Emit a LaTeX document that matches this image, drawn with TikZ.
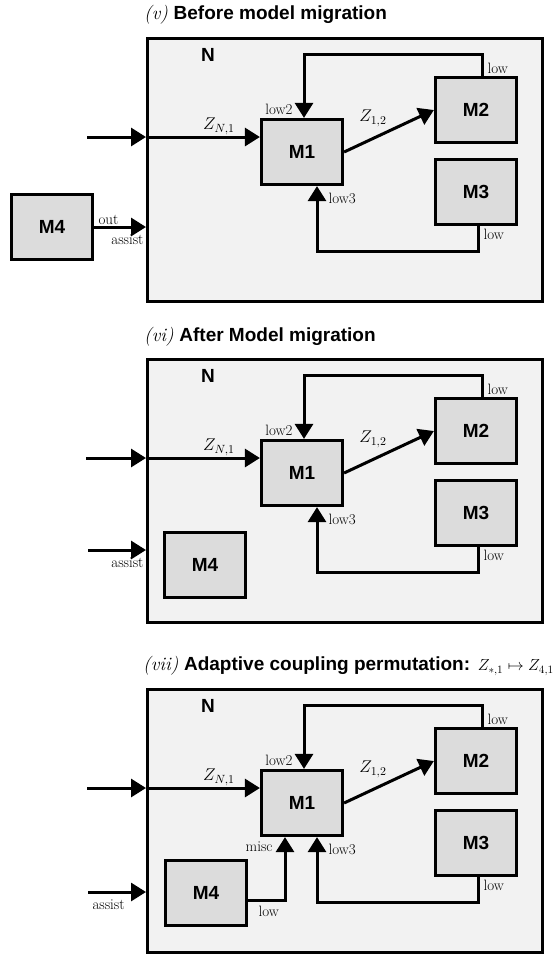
\RequirePackage{fix-cm}
\documentclass[tikz,border=0pt]{standalone}
\usepackage{fontspec}
\newfontfamily\headfont{Liberation Sans}
\usetikzlibrary{arrows.meta}
\definecolor{netbg}{HTML}{F2F2F2}
\definecolor{modfill}{HTML}{DCDCDC}

\begin{document}
\begin{tikzpicture}[x=1pt,y=-1pt,
    net/.style={draw,line width=3.2pt,fill=netbg,anchor=north west,minimum width=395pt,minimum height=263pt,inner sep=0pt},
    model/.style={draw,line width=3.2pt,fill=modfill,minimum width=81pt,minimum height=65pt,inner sep=0pt,font={\fontsize{19}{19}\headfont\bfseries}},
    netname/.style={inner sep=0pt,font={\fontsize{19}{19}\headfont\bfseries}},
    flow/.style={line width=3pt,-{Triangle[length=15pt,width=18pt]}},
    lbl/.style={inner sep=1pt,font={\fontsize{15}{15}\selectfont}},
    zlbl/.style={inner sep=1pt,font={\fontsize{17}{17}\selectfont}},
    title/.style={anchor=west,inner sep=0pt,font={\fontsize{19}{19}\selectfont}}]
\useasboundingbox (0,0) rectangle (555,954);

% (v) before the migration
\begin{scope}[shift={(0,37)}]
    \node[title] (tpre) at (144,-22) {\textit{(v)} {\headfont\bfseries Before model migration}};
    \node[net] (boxpre) at (146,0) {};
    \node[netname] (npre) at (208,18) {N};
    \node[model] (m1pre) at (302,115) {M1};
    \node[model] (m2pre) at (476,73) {M2};
    \node[model] (m3pre) at (476,155) {M3};
    \node[model] (m4pre) at (52,190) {M4};
    \coordinate (inpre) at (87,100);
    \coordinate (t1pre) at (482,17);
    \coordinate (t2pre) at (304,17);
    \coordinate (b1pre) at (478,214);
    \coordinate (b2pre) at (317,214);
    \draw[flow] (inpre) -- (inpre -| boxpre.west);
    \draw[flow] (inpre -| boxpre.west) -- (inpre -| m1pre.west) node[zlbl,pos=.64,above] {$Z_{N,1}$};
    \draw[flow] (m1pre.east) -- (m2pre.west) node[zlbl,midway,anchor=south east,yshift=2pt] {$Z_{1,2}$};
    \draw[flow] (t1pre |- m2pre.north) node[lbl,anchor=south west,xshift=3pt] {low} -- (t1pre) -- (t2pre) -- (t2pre |- m1pre.north) node[lbl,anchor=south east,xshift=-9pt,yshift=1pt] {low2};
    \draw[flow] (b1pre |- m3pre.south) node[lbl,anchor=north west,xshift=3pt] {low} -- (b1pre) -- (b2pre) -- (b2pre |- m1pre.south) node[lbl,anchor=west,xshift=9pt,yshift=-12pt] {low3};
    \draw[flow] (m4pre.east) node[lbl,anchor=south west,xshift=2pt] {out} -- (m4pre.east -| boxpre.west) node[lbl,anchor=north east,yshift=-5pt] {assist};
\end{scope}

% (vi) after the migration
\begin{scope}[shift={(0,358)}]
    \node[title] (tpost) at (144,-21) {\textit{(vi)} {\headfont\bfseries After Model migration}};
    \node[net] (boxpost) at (146,0) {};
    \node[netname] (npost) at (208,18) {N};
    \node[model] (m1post) at (302,115) {M1};
    \node[model] (m2post) at (476,73) {M2};
    \node[model] (m3post) at (476,155) {M3};
    \node[model] (m4post) at (205,207) {M4};
    \coordinate (inpost) at (86,100);
    \coordinate (aspost) at (88,192);
    \coordinate (t1post) at (482,17);
    \coordinate (t2post) at (304,17);
    \coordinate (b1post) at (478,214);
    \coordinate (b2post) at (317,214);
    \draw[flow] (inpost) -- (inpost -| boxpost.west);
    \draw[flow] (inpost -| boxpost.west) -- (inpost -| m1post.west) node[zlbl,pos=.64,above] {$Z_{N,1}$};
    \draw[flow] (m1post.east) -- (m2post.west) node[zlbl,midway,anchor=south east,yshift=2pt] {$Z_{1,2}$};
    \draw[flow] (t1post |- m2post.north) node[lbl,anchor=south west,xshift=3pt] {low} -- (t1post) -- (t2post) -- (t2post |- m1post.north) node[lbl,anchor=south east,xshift=-9pt,yshift=1pt] {low2};
    \draw[flow] (b1post |- m3post.south) node[lbl,anchor=north west,xshift=3pt] {low} -- (b1post) -- (b2post) -- (b2post |- m1post.south) node[lbl,anchor=west,xshift=9pt,yshift=-12pt] {low3};
    \draw[flow] (aspost) -- (aspost -| boxpost.west) node[lbl,anchor=north east,yshift=-5pt] {assist};
\end{scope}

% (vii) M4 now feeds M1
\begin{scope}[shift={(0,688)}]
    \node[title] (tperm) at (143,-22) {\textit{(vii)} {\headfont\bfseries Adaptive coupling permutation:} {\fontsize{16}{16}\selectfont$Z_{*,1}\mapsto Z_{4,1}$}};
    \node[net] (boxperm) at (146,0) {};
    \node[netname] (nperm) at (208,18) {N};
    \node[model] (m1perm) at (302,115) {M1};
    \node[model] (m2perm) at (476,73) {M2};
    \node[model] (m3perm) at (476,155) {M3};
    \node[model] (m4perm) at (206,205) {M4};
    \coordinate (inperm) at (87,100);
    \coordinate (asperm) at (88,204);
    \coordinate (cperm) at (285,212);
    \coordinate (t1perm) at (482,17);
    \coordinate (t2perm) at (304,17);
    \coordinate (b1perm) at (478,214);
    \coordinate (b2perm) at (317,214);
    \draw[flow] (inperm) -- (inperm -| boxperm.west);
    \draw[flow] (inperm -| boxperm.west) -- (inperm -| m1perm.west) node[zlbl,pos=.64,above] {$Z_{N,1}$};
    \draw[flow] (m1perm.east) -- (m2perm.west) node[zlbl,midway,anchor=south east,yshift=2pt] {$Z_{1,2}$};
    \draw[flow] (t1perm |- m2perm.north) node[lbl,anchor=south west,xshift=3pt] {low} -- (t1perm) -- (t2perm) -- (t2perm |- m1perm.north) node[lbl,anchor=south east,xshift=-9pt,yshift=1pt] {low2};
    \draw[flow] (b1perm |- m3perm.south) node[lbl,anchor=north west,xshift=3pt] {low} -- (b1perm) -- (b2perm) -- (b2perm |- m1perm.south) node[lbl,anchor=west,xshift=9pt,yshift=-12pt] {low3};
    \draw[flow] (m4perm.east |- cperm) node[lbl,anchor=north west,xshift=8pt,yshift=-4pt] {low} -- (cperm) -- (cperm |- m1perm.south) node[lbl,anchor=east,xshift=-10pt,yshift=-10pt] {misc};
    \draw[flow] (asperm) node[lbl,anchor=north west,xshift=2pt,yshift=-5pt] {assist} -- (asperm -| boxperm.west);
\end{scope}
\end{tikzpicture}
\end{document}
